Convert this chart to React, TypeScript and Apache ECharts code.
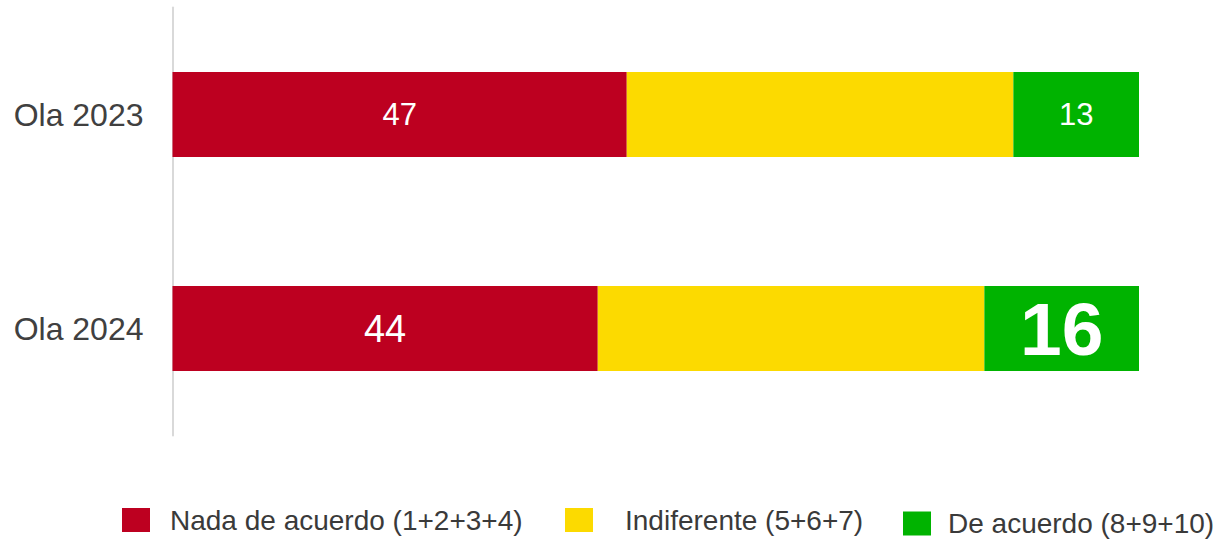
import React, { useEffect, useRef } from "react";
import * as echarts from "echarts";

const categories = ["Ola 2023", "Ola 2024"];
const seriesNames = ["Nada de acuerdo (1+2+3+4)", "Indiferente (5+6+7)", "De acuerdo (8+9+10)"];
const nadaValues = [47, 44];
const indiferenteValues = [40, 40];
const deAcuerdoValues = [13, 16];
const colors = ["#BD0020", "#FCDA00", "#00B300"];

const FONT = "'Liberation Sans', Arial, sans-serif";

export default function App() {
  const ref = useRef<HTMLDivElement>(null);
  useEffect(() => {
    if (!ref.current) return;
    const chart = echarts.init(ref.current, undefined, { renderer: "svg" });
    const labelStyle = (fontSize: number, bold = false) => ({
      show: true,
      position: "inside",
      color: "#ffffff",
      fontFamily: FONT,
      fontSize,
      fontWeight: bold ? "bold" : "normal",
    });
    const legendBase = {
      orient: "horizontal",
      padding: 0,
      itemWidth: 28,
      itemHeight: 24,
      icon: "rect",
      selectedMode: false,
    };
    chart.setOption({
      animation: false,
      grid: { left: 172.5, right: 80, top: 7.5, bottom: 104.5, containLabel: false },
      xAxis: { type: "value", min: 0, max: 100, show: false },
      yAxis: {
        type: "category",
        data: categories,
        inverse: true,
        axisLine: { show: true, lineStyle: { color: "#d9d9d9", width: 2 } },
        axisTick: { show: false },
        axisLabel: { margin: 29, fontSize: 32, color: "#404040", fontFamily: FONT },
      },
      legend: [
        {
          ...legendBase,
          left: 122,
          top: 506,
          data: [seriesNames[0]],
          textStyle: { fontSize: 28, color: "#3a3a3a", fontFamily: FONT, padding: [0, 0, 0, 15] },
        },
        {
          ...legendBase,
          left: 565,
          top: 506,
          data: [seriesNames[1]],
          textStyle: { fontSize: 28, color: "#3a3a3a", fontFamily: FONT, padding: [0, 0, 0, 27] },
        },
        {
          ...legendBase,
          left: 903,
          top: 509.5,
          data: [seriesNames[2]],
          textStyle: { fontSize: 28, color: "#3a3a3a", fontFamily: FONT, padding: [0, 0, 0, 12] },
        },
      ],
      series: [
        {
          name: seriesNames[0],
          type: "bar",
          stack: "total",
          barWidth: 85,
          itemStyle: { color: colors[0] },
          data: nadaValues.map((v, i) => ({ value: v, label: labelStyle(i === 0 ? 31 : 38) })),
        },
        {
          name: seriesNames[1],
          type: "bar",
          stack: "total",
          barWidth: 85,
          itemStyle: { color: colors[1] },
          label: { show: false },
          data: indiferenteValues,
        },
        {
          name: seriesNames[2],
          type: "bar",
          stack: "total",
          barWidth: 85,
          itemStyle: { color: colors[2] },
          data: deAcuerdoValues.map((v, i) => ({
            value: v,
            label: i === 0 ? labelStyle(31) : labelStyle(75, true),
          })),
        },
      ],
    });
    return () => chart.dispose();
  }, []);
  return (
    <div
      ref={ref}
      style={{ position: "fixed", left: 0, top: 0, width: 1219, height: 540, background: "#fff" }}
    />
  );
}
